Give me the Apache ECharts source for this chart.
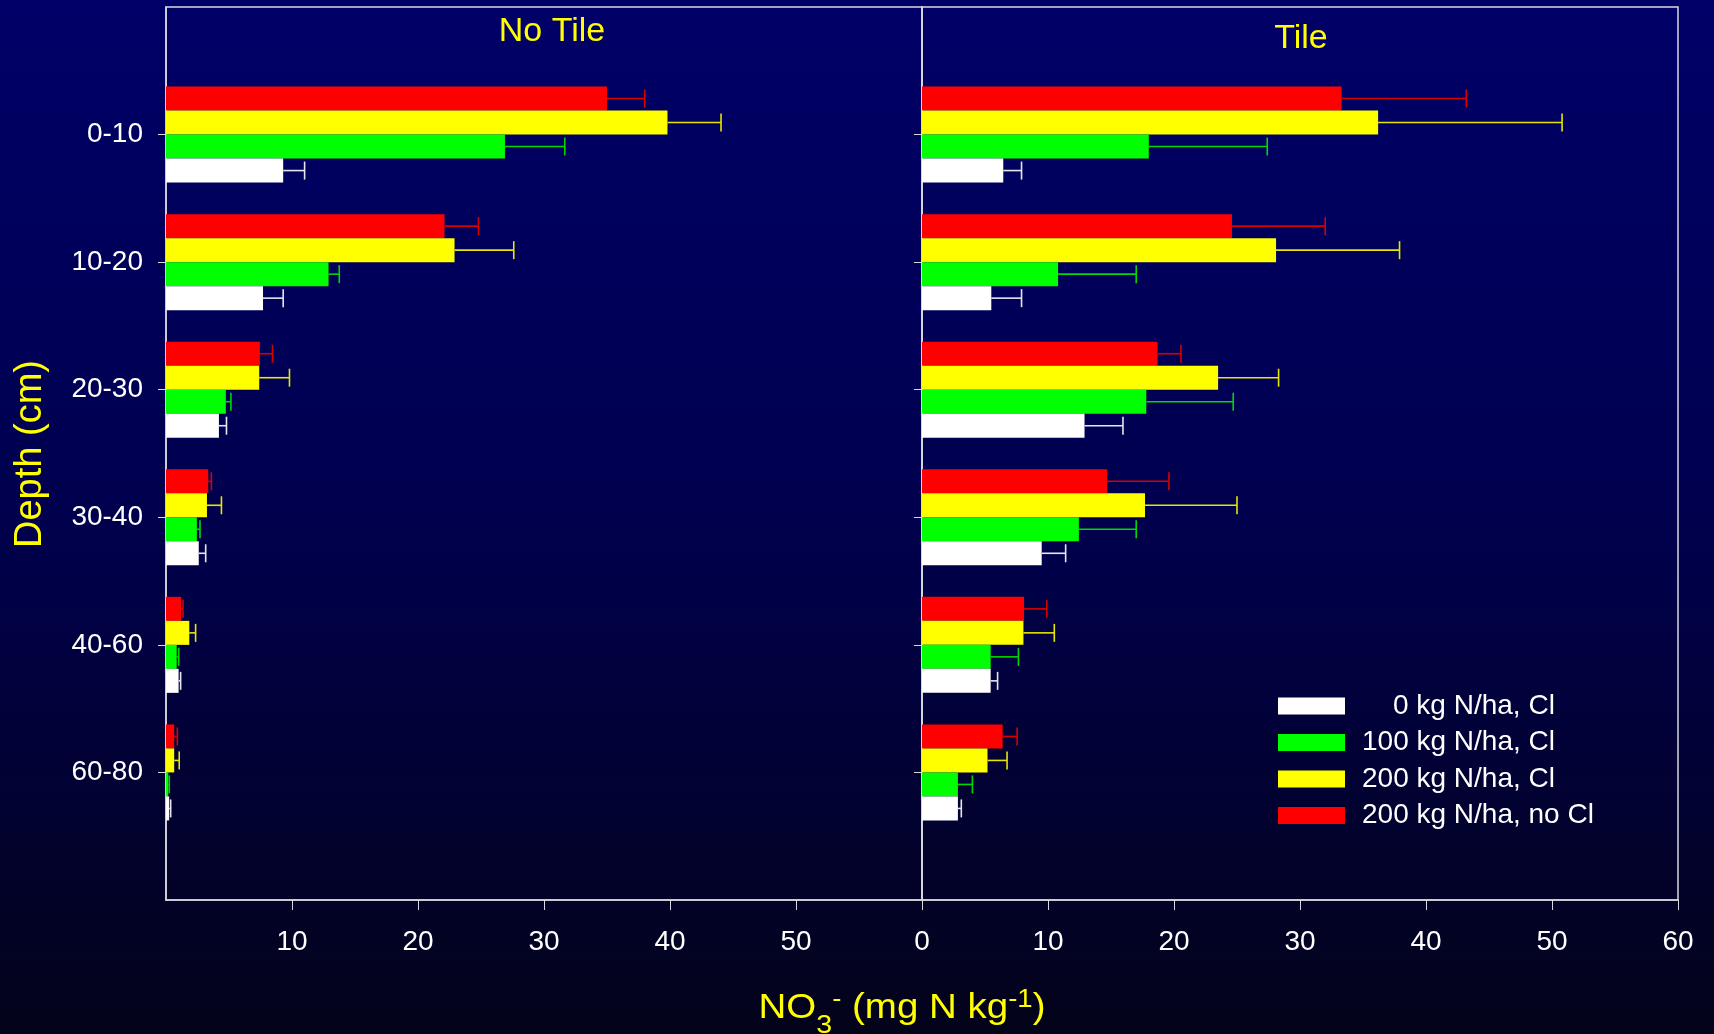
<!DOCTYPE html>
<html>
<head>
<meta charset="utf-8">
<script src="https://cdn.jsdelivr.net/npm/echarts@6/dist/echarts.min.js"></script>
<style>
html,body{margin:0;padding:0;background:#000040;}
#chart{width:1714px;height:1034px;}
</style>
</head>
<body>
<div id="chart"></div>
<script>
// ---- Data ----
const depths = ['0-10', '10-20', '20-30', '30-40', '40-60', '60-80'];
const treatments = ['0 kg N/ha, Cl', '100 kg N/ha, Cl', '200 kg N/ha, Cl', '200 kg N/ha, no Cl'];
const xTicks = [0, 10, 20, 30, 40, 50, 60];
const leftTicks = [10, 20, 30, 40, 50];

// No Tile panel
const noTile0 = [9.3, 7.7, 4.2, 2.6, 1.0, 0.25];
const noTile0Err = [1.7, 1.6, 0.6, 0.55, 0.16, 0.12];
const noTile100 = [26.9, 12.9, 4.75, 2.45, 0.85, 0.18];
const noTile100Err = [4.75, 0.85, 0.4, 0.25, 0.16, 0.08];
const noTile200 = [39.8, 22.9, 7.4, 3.25, 1.85, 0.65];
const noTile200Err = [4.25, 4.7, 2.4, 1.15, 0.5, 0.4];
const noTile200NoCl = [35.0, 22.1, 7.45, 3.35, 1.2, 0.65];
const noTile200NoClErr = [3.0, 2.7, 1.0, 0.25, 0.15, 0.25];

// Tile panel
const tile0 = [6.45, 5.5, 12.9, 9.5, 5.45, 2.85];
const tile0Err = [1.45, 2.4, 3.05, 1.9, 0.55, 0.27];
const tile100 = [18.0, 10.8, 17.8, 12.45, 5.45, 2.85];
const tile100Err = [9.4, 6.2, 6.9, 4.55, 2.2, 1.15];
const tile200 = [36.2, 28.1, 23.5, 17.7, 8.05, 5.2];
const tile200Err = [14.6, 9.8, 4.8, 7.3, 2.45, 1.55];
const tile200NoCl = [33.3, 24.6, 18.7, 14.7, 8.1, 6.4];
const tile200NoClErr = [9.9, 7.4, 1.85, 4.9, 1.8, 1.15];

// ---- Styling ----
const FONT = "'Liberation Sans', Arial, sans-serif";
const colors = ['#ffffff', '#00ff00', '#ffff00', '#ff0000'];
const errColors = ['#e6e6f0', '#00d800', '#e6e600', '#d80000'];
const BAR_W = 24;
const drawOrder = [3, 2, 1, 0]; // top to bottom within each depth group
const lineCol = '#d8d8e0';

// y categories: padded with blanks at both ends (bottom to top)
const yCats = [''].concat(depths.slice().reverse()).concat(['']);
function catIndex(i) { return depths.length - i; }

const panels = [
  { vals: [noTile0, noTile100, noTile200, noTile200NoCl], errs: [noTile0Err, noTile100Err, noTile200Err, noTile200NoClErr] },
  { vals: [tile0, tile100, tile200, tile200NoCl], errs: [tile0Err, tile100Err, tile200Err, tile200NoClErr] }
];

const series = [];
panels.forEach((p, pi) => {
  drawOrder.forEach(t => {
    series.push({
      type: 'bar', name: treatments[t], xAxisIndex: pi, yAxisIndex: pi,
      barWidth: BAR_W, barGap: '0%',
      itemStyle: { color: colors[t] },
      data: p.vals[t].map((v, i) => [v, catIndex(i)]),
      z: 2
    });
  });
  const errData = [];
  drawOrder.forEach((t, k) => {
    p.vals[t].forEach((v, i) => errData.push([v, catIndex(i), p.errs[t][i], t, k]));
  });
  series.push({
    type: 'custom', xAxisIndex: pi, yAxisIndex: pi, z: 3,
    data: errData,
    encode: { x: 0, y: 1 },
    renderItem: function (params, api) {
      const v = api.value(0), c = api.value(1), e = api.value(2), t = api.value(3), k = api.value(4);
      const p0 = api.coord([v, c]);
      const p1 = api.coord([v + e, c]);
      const y = p0[1] + (k - 1.5) * BAR_W;
      const st = { stroke: errColors[t], lineWidth: 1.6 };
      return { type: 'group', children: [
        { type: 'line', shape: { x1: p0[0], y1: y, x2: p1[0], y2: y }, style: st },
        { type: 'line', shape: { x1: p1[0], y1: y - 9, x2: p1[0], y2: y + 9 }, style: st }
      ]};
    }
  });
});

function xAxisCfg(idx) {
  const left = idx === 0;
  return {
    type: 'value', gridIndex: idx, min: 0, max: 60, interval: 10,
    splitLine: { show: false },
    axisLine: { show: true, lineStyle: { color: lineCol, width: 1.5 } },
    axisTick: left ? { show: true, length: 10, customValues: leftTicks, lineStyle: { color: lineCol } }
                   : { show: true, length: 10, lineStyle: { color: lineCol } },
    axisLabel: left ? { customValues: leftTicks, color: '#ffffff', fontSize: 28, fontFamily: FONT, margin: 28 }
                    : { color: '#ffffff', fontSize: 28, fontFamily: FONT, margin: 28 }
  };
}
function yAxisCfg(idx) {
  return {
    type: 'category', gridIndex: idx, data: yCats, boundaryGap: false,
    axisLine: { show: true, lineStyle: { color: lineCol, width: 1.5 } },
    axisTick: { show: true, length: 8, interval: function (i, v) { return v !== ''; }, lineStyle: { color: lineCol } },
    axisLabel: { show: idx === 0, interval: 0, color: '#ffffff', fontSize: 28, fontFamily: FONT, margin: 23 },
    splitLine: { show: false }
  };
}

const option = {
  animation: false,
  backgroundColor: {
    type: 'linear', x: 0, y: 0, x2: 0, y2: 1,
    colorStops: [{ offset: 0, color: '#000068' }, { offset: 0.5, color: '#00004e' }, { offset: 1, color: '#03031a' }]
  },
  grid: [
    { left: 166, top: 7, width: 756, height: 893, show: true, borderColor: lineCol, borderWidth: 1.5, backgroundColor: 'transparent' },
    { left: 922, top: 7, width: 756, height: 893, show: true, borderColor: lineCol, borderWidth: 1.5, backgroundColor: 'transparent' }
  ],
  xAxis: [xAxisCfg(0), xAxisCfg(1)],
  yAxis: [yAxisCfg(0), yAxisCfg(1)],
  legend: {
    orient: 'vertical', left: 1278, top: 692, padding: 0,
    itemWidth: 67, itemHeight: 17, itemGap: 8.5, icon: 'rect',
    selectedMode: false,
    data: treatments,
    formatter: function (name) { return (name.charAt(0) === '0' ? '{p0| }' : '{p| }') + name; },
    textStyle: {
      color: '#ffffff', fontSize: 28, fontFamily: FONT, lineHeight: 27,
      rich: { p0: { width: 43, fontSize: 28 }, p: { width: 12, fontSize: 28 } }
    }
  },
  graphic: [
    { type: 'text', x: 552, y: 32, style: { text: 'No Tile', fill: '#ffff00', font: '34px ' + FONT, textAlign: 'center', textVerticalAlign: 'middle' } },
    { type: 'text', x: 1301, y: 39, style: { text: 'Tile', fill: '#ffff00', font: '34px ' + FONT, textAlign: 'center', textVerticalAlign: 'middle' } },
    { type: 'text', x: 31, y: 454, rotation: Math.PI / 2, style: { text: 'Depth (cm)', fill: '#ffff00', font: '38px ' + FONT, textAlign: 'center', textVerticalAlign: 'middle' } },
    { type: 'text', x: 902, y: 1008, scaleX: 1.1, style: {
        text: '{n|NO}{sub|3}{sup|-}{n| (mg N kg}{sup|-1}{n|)}',
        textAlign: 'center', textVerticalAlign: 'middle',
        rich: {
          n: { fill: '#ffff00', fontSize: 35, fontFamily: FONT, lineHeight: 62, verticalAlign: 'middle' },
          sub: { fill: '#ffff00', fontSize: 26, fontFamily: FONT, lineHeight: 62, verticalAlign: 'bottom' },
          sup: { fill: '#ffff00', fontSize: 25, fontFamily: FONT, lineHeight: 62, verticalAlign: 'top', padding: [11, 0, 0, 0] }
        }
    } }
  ],
  series: series
};

const chart = echarts.init(document.getElementById('chart'), null, { renderer: 'canvas' });
chart.setOption(option);
</script>
</body>
</html>
